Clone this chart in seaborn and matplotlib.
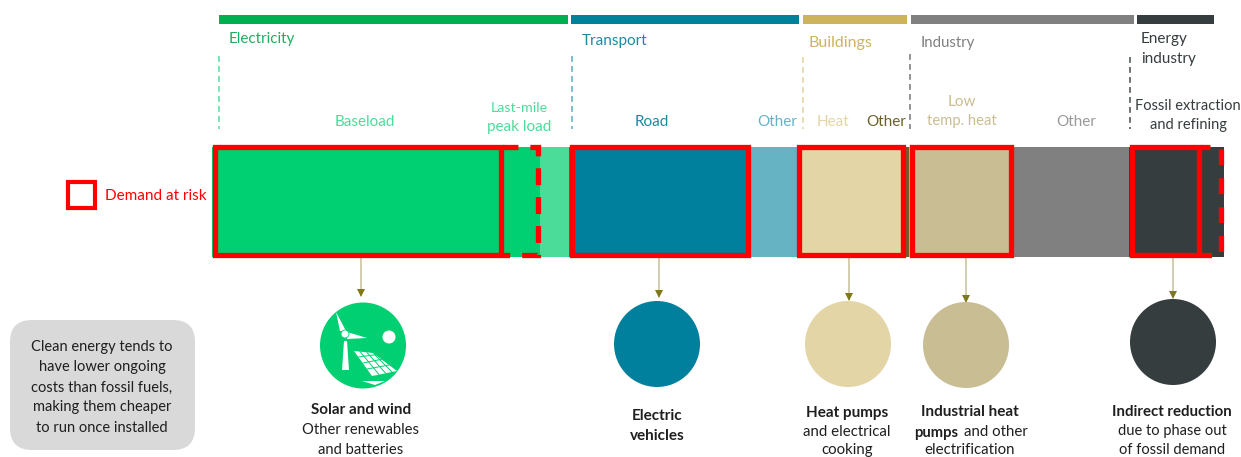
import matplotlib
matplotlib.use("Agg")
import matplotlib.pyplot as plt
from matplotlib.patches import Rectangle, FancyBboxPatch, Polygon, Circle
import pandas as pd
import seaborn as sns

W, H = 1241, 457
sns.set_theme(style="white")
plt.rcParams['font.family'] = ['Lato', 'DejaVu Sans']

# stacked bar segments (widths)
segments = ["Baseload", "Last-mile", "Elec other", "Road", "Transport other", "Heat",
            "Buildings other", "Low temp", "Industry other", "Energy"]
seg_widths = [288, 40, 29, 181, 47, 108, 4, 103, 117, 95]
seg_colors = ["#00d072", "#00d072", "#4cdc9a", "#00809c", "#66b3c4", "#e3d5a5",
              "#6b5f2a", "#c9bd94", "#808080", "#363d3f"]
BAR_X0, BAR_Y0, BAR_Y1 = 212, 147, 256.5

# sector header bars
sector_spans = [(219, 568), (571, 799), (803, 907), (911, 1134), (1137, 1214)]
sector_colors = ["#00b050", "#00829b", "#ccb35c", "#808080", "#363d3f"]

# dashed separators
sep_x = [219, 572, 803, 910, 1130]
sep_y0 = [56, 56, 57, 54, 57]
sep_colors = ["#66e0a8", "#66b3c4", "#e3d5a5", "#808080", "#555b5d"]

# demand at risk frames (solid)
solid_frames = [(214.5, 500.5), (571.5, 747.5), (798.5, 902.5), (911.5, 1010.5), (1131.5, 1199)]
# dashed frames: x-start, x-right, on, off, offset
dashed_frames = [(503, 538, 17, 12, 2), (1201, 1221, 16, 13, 7)]

# outcomes
circle_x = [363, 657, 848, 966, 1173]
circle_y = [345.5, 344, 344, 345, 342]
circle_colors = ["#00d072", "#00809c", "#e3d5a5", "#c9bd94", "#363d3f"]
arrow_x = [361, 659, 849, 966, 1173]
arrow_end = [296, 297, 300, 302, 298]

fig = plt.figure(figsize=(W / 100, H / 100), dpi=100, facecolor="white")

# stacked bar axes, exact pixel region
total = sum(seg_widths)
ax_bar = fig.add_axes([BAR_X0 / W, 1 - BAR_Y1 / H, total / W, (BAR_Y1 - BAR_Y0) / H])
cum = pd.Series(seg_widths).cumsum().tolist()
df = pd.DataFrame({"seg": segments, "end": cum, "row": ["all"] * len(segments)})
sns.barplot(data=df, x="end", y="row", hue="seg", hue_order=segments[::-1],
            palette=dict(zip(segments, seg_colors)), dodge=False, width=1, saturation=1,
            linewidth=0, legend=False, orient="h", ax=ax_bar)
ax_bar.set_xlim(0, total)
ax_bar.set_ylim(0.5, -0.5)
ax_bar.axis("off")

# pixel overlay axes
ax = fig.add_axes([0, 0, 1, 1])
ax.set_xlim(0, W)
ax.set_ylim(H, 0)
ax.axis("off")
ax.patch.set_alpha(0)

for (a, b), c in zip(sector_spans, sector_colors):
    ax.add_patch(Rectangle((a, 15), b - a, 9, fc=c, ec="none"))

for x, y0, c in zip(sep_x, sep_y0, sep_colors):
    ax.plot([x, x], [y0, 129], color=c, lw=1.2, ls=(0, (3.5, 2.5)))

RED = "#ff0000"
LW = 3.8
for a, b in solid_frames:
    ax.add_patch(Rectangle((a, 146.5), b - a, 108, fc="none", ec=RED, lw=LW, joinstyle="miter", zorder=5))
for a, b, on, off, offs in dashed_frames:
    ax.plot([a, b, b, a], [146.5, 146.5, 254.5, 254.5], color=RED, lw=LW, zorder=5,
            ls=(offs / 5.3, (on / 5.3, off / 5.3)), dash_capstyle="butt", dash_joinstyle="miter")

# legend
ax.add_patch(Rectangle((67.5, 181.5), 27, 26, fc="none", ec=RED, lw=3.0, joinstyle="miter"))


def txt(x, y, s, c="#1f1f1f", ha="center", bold=False, fs=11):
    ax.text(x, y + 1.5, s, color=c, fontsize=fs, ha=ha, va="center", fontweight="bold" if bold else "normal")


txt(105, 195, "Demand at risk", RED, "left")

txt(229, 38, "Electricity", "#1fae5f", "left")
txt(582, 39, "Transport", "#1b8aa3", "left")
txt(808, 41, "Buildings", "#ceb35f", "left", fs=11.5)
txt(921, 41, "Industry", "#808080", "left", fs=10.8)
txt(1141, 38, "Energy", "#363d3f", "left")
txt(1141, 57, "industry", "#363d3f", "left")

txt(365, 121, "Baseload", "#4cdc9a")
txt(519, 106, "Last-mile", "#4cdc9a", fs=10.3)
txt(519, 126, "peak load", "#4cdc9a")
txt(652, 121, "Road", "#1b8aa3")
txt(777, 121, "Other", "#66b3c4")
txt(833, 121, "Heat", "#e3d5a5")
txt(886, 121, "Other", "#6b5f2a")
txt(962, 100, "Low", "#c9bd94")
txt(962, 120, "temp. heat", "#c9bd94", fs=10.6)
txt(1076, 121, "Other", "#999999")
txt(1188, 105, "Fossil extraction", "#363d3f", fs=10.5)
txt(1188, 124, "and refining", "#363d3f", fs=10.5)

# arrows
for x, y1 in zip(arrow_x, arrow_end):
    ax.plot([x, x], [257, y1], color="#c9c3a4", lw=1.2, solid_capstyle="butt", zorder=1)
    ax.add_patch(Polygon([(x - 4, y1 - 7), (x + 4, y1 - 7), (x, y1 + 1)], fc="#7f7a18", ec="none", zorder=2))

# circles
sns.scatterplot(x=circle_x, y=circle_y, s=(86 * 0.72) ** 2, c=circle_colors, linewidth=0, ax=ax, zorder=3, legend=False)
ax.set_xlim(0, W)
ax.set_ylim(H, 0)

# icon
icon_polys = [
    [(336, 312), (340, 331), (346, 331)],
    [(347, 332), (367, 338), (347, 339)],
    [(344, 341), (347, 341), (349, 370), (342, 370)],
    [(354, 351), (373, 353), (397, 371), (372, 376)],
    [(362, 381), (385, 381), (375, 385)],
]
for p in icon_polys:
    ax.add_patch(Polygon(p, fc="white", ec="none", zorder=4))
ax.add_patch(Circle((345, 334), 4, fc="white", ec="#00d072", lw=0.6, zorder=4))
ax.add_patch(Circle((389, 337), 6.5, fc="white", ec="none", zorder=4))
panel_v = [((360, 351.5), (379, 374.5)), ((367, 352.5), (386, 373.5)), ((374, 354), (392, 372))]
panel_h = [((358.5, 357), (377, 354.5)), ((363, 363), (383, 359)), ((367, 369), (389, 365))]
for (x0, y0), (x1, y1) in panel_v + panel_h:
    ax.plot([x0, x1], [y0, y1], color="#00d072", lw=0.7, zorder=4)

# grey note box
ax.add_patch(FancyBboxPatch((10 + 22, 320 + 22), 185 - 44, 130 - 44,
                            boxstyle="round,pad=22,rounding_size=22", fc="#d9d9d9", ec="none"))
note_lines = ["Clean energy tends to", "have lower ongoing", "costs than fossil fuels,",
              "making them cheaper", "to run once installed"]
note_y = [345, 366, 386, 406, 426]
for s, y in zip(note_lines, note_y):
    txt(102, y, s, fs=10.5)

# captions
txt(361, 409, "Solar and wind", bold=True)
txt(361, 428, "Other renewables", fs=10.6)
txt(361, 448, "and batteries", fs=10.6)
txt(657, 415, "Electric", bold=True)
txt(657, 435, "vehicles", bold=True)
txt(847, 411, "Heat pumps", bold=True)
txt(847, 430, "and electrical", fs=10.8)
txt(847, 448.5, "cooking", fs=10.8)
txt(970, 411, "Industrial heat", bold=True)
txt(914, 431, "pumps", ha="left", bold=True, fs=10.6)
txt(964, 431, "and other", ha="left", fs=10.8)
txt(970, 448.5, "electrification", fs=10.8)
txt(1172, 410, "Indirect reduction", bold=True, fs=10.8)
txt(1172, 430, "due to phase out", fs=10.5)
txt(1172, 448.5, "of fossil demand", fs=10.5)

fig.savefig("out.png", dpi=100, facecolor="white")
